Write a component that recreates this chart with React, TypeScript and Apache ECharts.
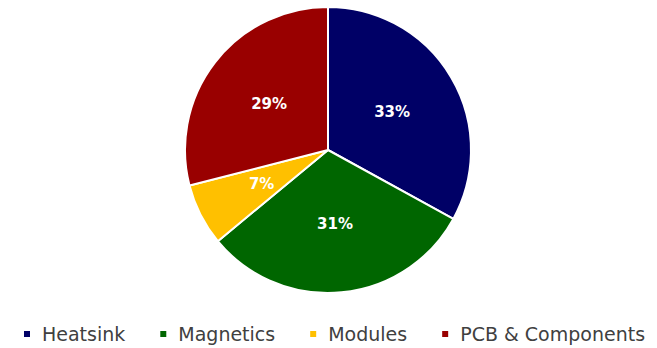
import React, { useEffect, useRef } from "react";
import * as echarts from "echarts";

const categories = ["Heatsink", "Magnetics", "Modules", "PCB & Components"];
const values = [33, 31, 7, 29];
const colors = ["#000066", "#006600", "#FFC000", "#990000"];

export default function App() {
  const ref = useRef<HTMLDivElement>(null);
  useEffect(() => {
    if (!ref.current) return;
    const chart = echarts.init(ref.current, null, { renderer: "svg" });
    chart.setOption({
      animation: false,
      backgroundColor: "#ffffff",
      legend: {
        data: categories,
        left: 17,
        top: 319,
        icon: "rect",
        itemWidth: 8,
        itemHeight: 8,
        itemGap: 33,
        textStyle: {
          fontFamily: "DejaVu Sans",
          fontSize: 19,
          lineHeight: 20,
          color: "#404040",
          padding: [0, 0, 0, 6],
        },
      },
      series: [
        {
          type: "pie",
          center: [328, 150],
          radius: [0, 143],
          startAngle: 90,
          clockwise: true,
          itemStyle: { borderColor: "#ffffff", borderWidth: 2 },
          label: {
            show: true,
            position: "inside",
            formatter: "{d}%",
            color: "#ffffff",
            fontFamily: "DejaVu Sans",
            fontWeight: "bold",
            fontSize: 15,
          },
          labelLine: { show: false },
          emphasis: { disabled: true },
          data: categories.map((name, i) => ({
            name,
            value: values[i],
            itemStyle: { color: colors[i] },
          })),
        },
      ],
    });
    return () => chart.dispose();
  }, []);
  return (
    <div
      ref={ref}
      style={{ width: 657, height: 348, position: "absolute", left: 0, top: 0 }}
    />
  );
}
